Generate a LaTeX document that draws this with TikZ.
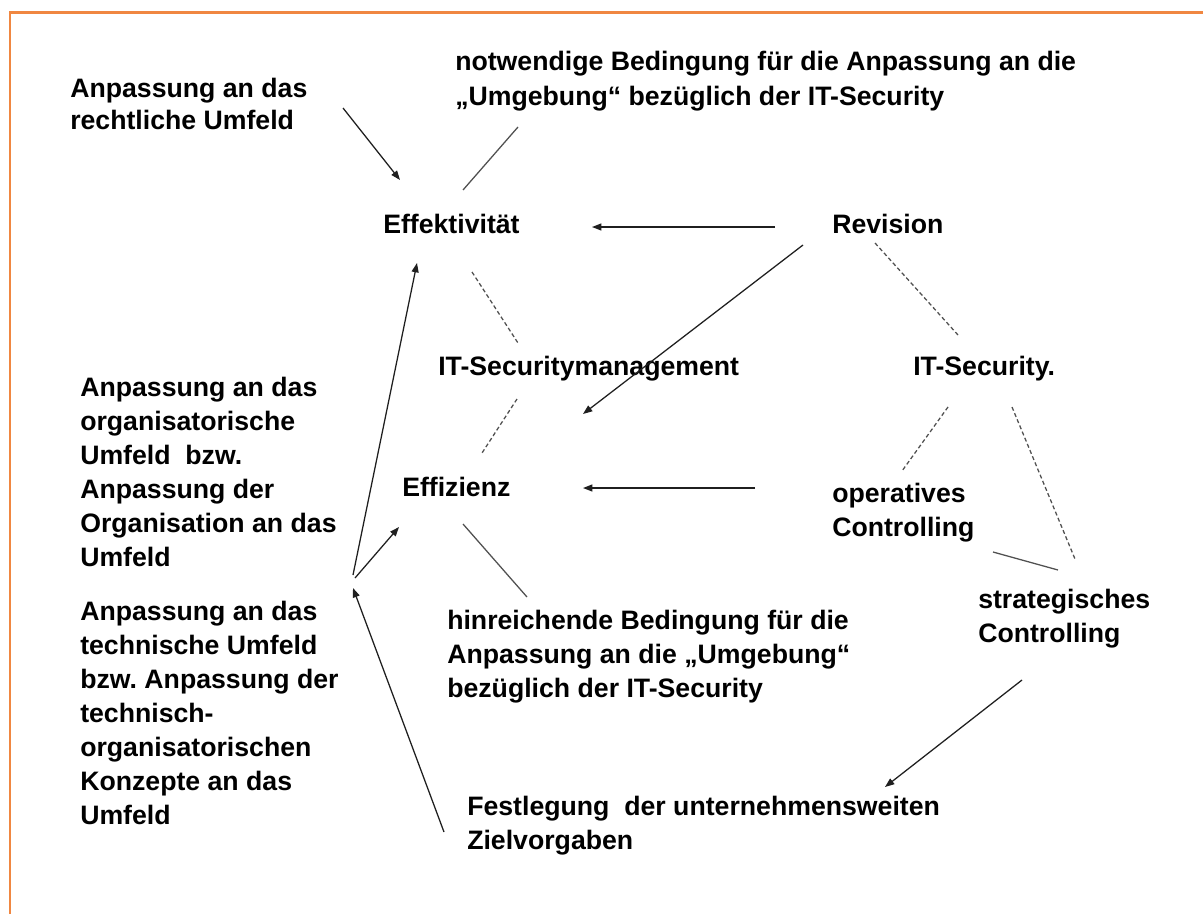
\documentclass[tikz,border=0pt]{standalone}
\usepackage{fontspec}
\setmainfont{Liberation Sans}
\usetikzlibrary{arrows.meta}
\definecolor{frameorange}{RGB}{240,135,65}
\definecolor{linegray}{RGB}{80,80,80}
\frenchspacing
\begin{document}
\begin{tikzpicture}[x=0.75pt,y=-0.75pt,
  lbl/.style={anchor=west,inner sep=0pt,align=left,font=\bfseries\fontsize{20}{25.5}\selectfont},
  arr/.style={draw=black!88,line width=0.95pt,-{Triangle[length=7pt,width=5.2pt]}},
  solidline/.style={draw=linegray,line width=0.95pt},
  dashline/.style={draw=linegray,line width=0.95pt,dash pattern=on 3pt off 2pt}]
\useasboundingbox (0,0) rectangle (1203,914);
\fill[white] (0,0) rectangle (1203,914);
\draw[frameorange,line width=2pt] (10,914) -- (10,12.5) -- (1203,12.5);

% nodes
\node[lbl,font=\bfseries\fontsize{20}{24}\selectfont] (tl) at (70,104) {Anpassung an das\\rechtliche Umfeld};
\node[lbl,font=\bfseries\fontsize{20}{26.5}\selectfont] (nb) at (455,81) {notwendige Bedingung für die Anpassung an die\\„Umgebung“ bezüglich der IT-Security};
\node[lbl] (eff) at (383,224) {Effektivität};
\node[lbl] (rev) at (832,224) {Revision};
\node[lbl] (itm) at (438,369) {IT-Securitymanagement};
\node[lbl] (its) at (913,369) {IT-Security.};
\node[lbl] (ezz) at (402,487) {Effizienz};
\node[lbl] (opc) at (832,513) {operatives\\Controlling};
\node[lbl] (stc) at (978,619) {strategisches\\Controlling};
\node[lbl] (hb) at (447,657) {hinreichende Bedingung für die\\Anpassung an die „Umgebung“\\bezüglich der IT-Security};
\node[lbl] (fz) at (467,826) {Festlegung\ \ der unternehmensweiten\\Zielvorgaben};
\node[lbl] (orgu) at (80,472) {Anpassung an das\\organisatorische\\Umfeld\ \ bzw.\\Anpassung der\\Organisation an das\\Umfeld};
\node[lbl] (tecu) at (80,713) {Anpassung an das\\technische Umfeld\\bzw. Anpassung der\\technisch-\\organisatorischen\\Konzepte an das\\Umfeld};

% connector end points
\coordinate (e1s) at (343,108); \coordinate (e1t) at (400,180);
\coordinate (l1a) at (463,190); \coordinate (l1b) at (518,127);
\coordinate (a2s) at (775,227); \coordinate (a2t) at (592,227);
\coordinate (a3s) at (803,245); \coordinate (a3t) at (583,414);
\coordinate (d1a) at (472,272); \coordinate (d1b) at (518,343);
\coordinate (d2a) at (875,243); \coordinate (d2b) at (958,335);
\coordinate (d3a) at (517,399); \coordinate (d3b) at (482,453);
\coordinate (a4s) at (755,488); \coordinate (a4t) at (583,488);
\coordinate (l2a) at (463,524); \coordinate (l2b) at (527,597);
\coordinate (d4a) at (948,407); \coordinate (d4b) at (902,471);
\coordinate (d5a) at (1012,407); \coordinate (d5b) at (1075,559);
\coordinate (l3a) at (993,552); \coordinate (l3b) at (1058,570);
\coordinate (a5s) at (1022,680); \coordinate (a5t) at (885,787);
\coordinate (a6s) at (444,832); \coordinate (a6t) at (353,588);
\coordinate (a7s) at (353,575); \coordinate (a7t) at (417,263);
\coordinate (a8s) at (355,578); \coordinate (a8t) at (399,527);

% connectors
\draw[arr] (e1s) -- (e1t);
\draw[solidline] (l1a) -- (l1b);
\draw[arr] (a2s) -- (a2t);
\draw[arr] (a3s) -- (a3t);
\draw[dashline] (d1a) -- (d1b);
\draw[dashline] (d2a) -- (d2b);
\draw[dashline] (d3a) -- (d3b);
\draw[arr] (a4s) -- (a4t);
\draw[solidline] (l2a) -- (l2b);
\draw[dashline] (d4a) -- (d4b);
\draw[dashline] (d5a) -- (d5b);
\draw[solidline] (l3a) -- (l3b);
\draw[arr] (a5s) -- (a5t);
\draw[arr] (a6s) -- (a6t);
\draw[arr] (a7s) -- (a7t);
\draw[arr] (a8s) -- (a8t);
\end{tikzpicture}
\end{document}
